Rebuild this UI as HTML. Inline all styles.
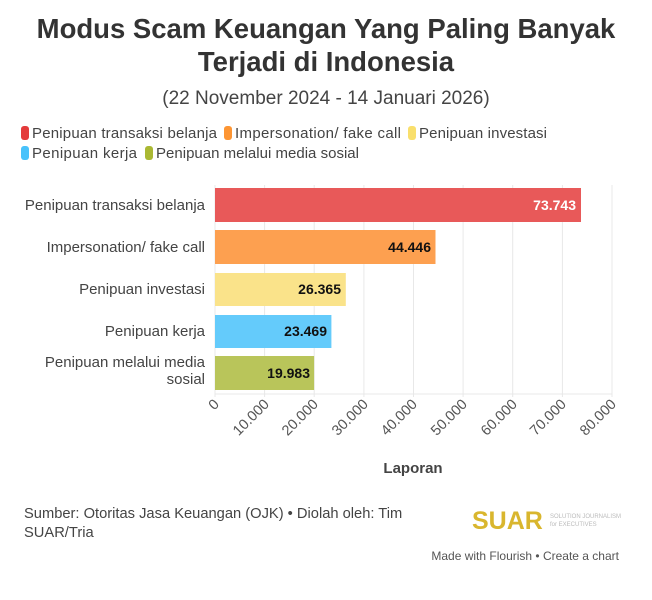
<!DOCTYPE html>
<html><head><meta charset="utf-8"><style>
body{margin:0;background:#fff;width:652px;height:600px;overflow:hidden;font-family:"Liberation Sans",sans-serif;color:#333}
.t{position:absolute;left:0;width:652px;text-align:center}
</style></head><body>
<div class="t" style="top:12px;font-size:27.5px;font-weight:bold;line-height:33px;color:#333">Modus Scam Keuangan Yang Paling Banyak<br>Terjadi di Indonesia</div>
<div class="t" style="top:88px;font-size:19px;color:#444">(22 November 2024 - 14 Januari 2026)</div>
<svg width="652" height="600" style="position:absolute;left:0;top:0" font-family="Liberation Sans, sans-serif">
<g font-size="15" fill="#444">
<rect x="21" y="126" width="8" height="14" rx="3" fill="#e43b3b"/><text x="32" y="138" textLength="185">Penipuan transaksi belanja</text>
<rect x="224" y="126" width="8" height="14" rx="3" fill="#fd9533"/><text x="235" y="138" textLength="166">Impersonation/ fake call</text>
<rect x="408" y="126" width="8" height="14" rx="3" fill="#f9df6c"/><text x="419" y="138" textLength="128">Penipuan investasi</text>
<rect x="21" y="146" width="8" height="14" rx="3" fill="#48c2fb"/><text x="32" y="158" textLength="105">Penipuan kerja</text>
<rect x="145" y="146" width="8" height="14" rx="3" fill="#aab833"/><text x="156" y="158" textLength="203">Penipuan melalui media sosial</text>
</g>
<g stroke="#e8e8e8" stroke-width="1">
<line x1="215" y1="185" x2="215" y2="397"/><line x1="264.6" y1="185" x2="264.6" y2="397"/><line x1="314.2" y1="185" x2="314.2" y2="397"/><line x1="363.9" y1="185" x2="363.9" y2="397"/><line x1="413.5" y1="185" x2="413.5" y2="397"/><line x1="463.1" y1="185" x2="463.1" y2="397"/><line x1="512.7" y1="185" x2="512.7" y2="397"/><line x1="562.4" y1="185" x2="562.4" y2="397"/><line x1="612" y1="185" x2="612" y2="397"/>
<line x1="215" y1="394" x2="612" y2="394"/>
</g>
<rect x="215" y="188" width="366" height="34" fill="#e85959"/>
<rect x="215" y="230" width="220.5" height="34" fill="#fda050"/>
<rect x="215" y="273" width="130.8" height="33" fill="#fae38a"/>
<rect x="215" y="315" width="116.4" height="33" fill="#64cbfb"/>
<rect x="215" y="356" width="99.1" height="34" fill="#b9c55a"/>
<g font-size="14" font-weight="bold" text-anchor="end">
<text x="576" y="210" fill="#fff">73.743</text>
<text x="431" y="252" fill="#111">44.446</text>
<text x="341" y="294" fill="#111">26.365</text>
<text x="327" y="336" fill="#111">23.469</text>
<text x="310" y="378" fill="#111">19.983</text>
</g>
<g font-size="15" fill="#444" text-anchor="end">
<text x="205" y="210">Penipuan transaksi belanja</text>
<text x="205" y="252">Impersonation/ fake call</text>
<text x="205" y="294">Penipuan investasi</text>
<text x="205" y="336">Penipuan kerja</text>
<text x="205" y="367">Penipuan melalui media</text>
<text x="205" y="384">sosial</text>
</g>
<g font-size="14.5" fill="#555" text-anchor="end">
<text transform="translate(220,405) rotate(-45)">0</text>
<text transform="translate(270,405) rotate(-45)">10.000</text>
<text transform="translate(319,405) rotate(-45)">20.000</text>
<text transform="translate(369,405) rotate(-45)">30.000</text>
<text transform="translate(418,405) rotate(-45)">40.000</text>
<text transform="translate(468,405) rotate(-45)">50.000</text>
<text transform="translate(518,405) rotate(-45)">60.000</text>
<text transform="translate(567,405) rotate(-45)">70.000</text>
<text transform="translate(617,405) rotate(-45)">80.000</text>
</g>
<text x="413" y="473" font-size="15" font-weight="bold" fill="#444" text-anchor="middle">Laporan</text>
<text x="24" y="518" font-size="14.7" fill="#444">Sumber: Otoritas Jasa Keuangan (OJK) • Diolah oleh: Tim</text>
<text x="24" y="537" font-size="14.7" fill="#444">SUAR/Tria</text>
<text x="472" y="529" font-size="25" font-weight="bold" fill="#d9b62e">SUAR</text>
<text x="550" y="518" font-size="6" fill="#bbb">SOLUTION JOURNALISM</text>
<text x="550" y="526" font-size="6" fill="#bbb">for EXECUTIVES</text>
<text x="619" y="560" font-size="12" fill="#555" text-anchor="end">Made with Flourish • Create a chart</text>
</svg>
</body></html>
